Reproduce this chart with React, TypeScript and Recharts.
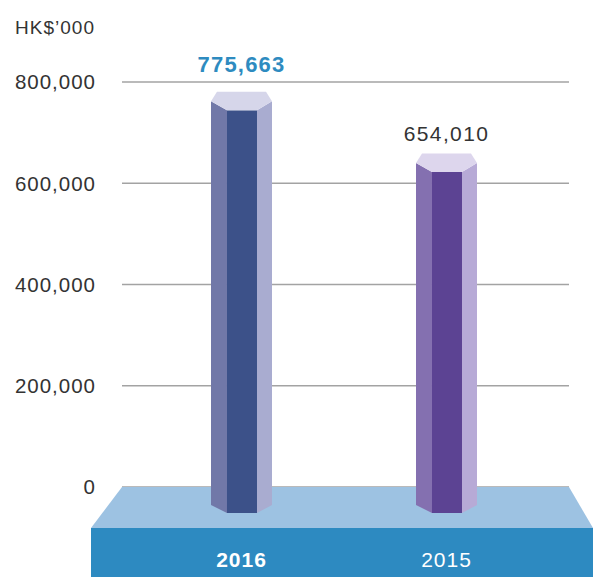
import React from "react";
import {
  BarChart,
  Bar,
  XAxis,
  YAxis,
  CartesianGrid,
  ReferenceArea,
  LabelList,
} from "recharts";

// data
const years = ["2016", "2015"];
const revenue = [775663, 654010];
const yTicks = [0, 200000, 400000, 600000, 800000];
const unitLabel = "HK$\u2019000";

const chartData = years.map((year, i) => ({ year, value: revenue[i] }));

const FONT = '"Liberation Sans", Arial, Helvetica, sans-serif';
const PAD_L = 17;
const PAD_R = 20;

// face colours per bar: left, front, right, cap
const palette = [
  { left: "#7178a8", front: "#3c5189", right: "#a9acd0", cap: "#d6d6ea" },
  { left: "#8470b0", front: "#5c4393", right: "#b7aad6", cap: "#ddd6ed" },
];

const fmt = (v: number) => v.toLocaleString("en-US");

const PrismBar = (props: any) => {
  const { x, y, width, height, index } = props;
  const c = palette[index % palette.length];
  const z = y + height;
  const l = x + width * 0.262;
  const r = x + width * 0.754;
  const top = y - 2.5;
  const tip = y + 7;
  const front = y + 16;
  const baseFront = z + 26;
  const baseSide = z + 18;
  return (
    <g>
      <polygon
        points={`${x},${tip} ${l},${front} ${l},${baseFront} ${x},${baseSide}`}
        fill={c.left}
      />
      <rect x={l} y={front} width={r - l} height={baseFront - front} fill={c.front} />
      <polygon
        points={`${r},${front} ${x + width},${tip} ${x + width},${baseSide} ${r},${baseFront}`}
        fill={c.right}
      />
      <polygon
        points={`${x + 6},${top} ${x + width - 6},${top} ${x + width},${tip} ${r},${front} ${l},${front} ${x},${tip}`}
        fill={c.cap}
      />
    </g>
  );
};

const Platform = (props: any) => {
  const { x, y, width, height } = props;
  const z = y + height;
  const L = x - PAD_L;
  const R = x + width + PAD_R;
  return (
    <g>
      <polygon
        points={`${L},${z} ${R},${z} ${R + 24},${z + 41} ${L - 31},${z + 41}`}
        fill="#9dc2e2"
      />
      <rect x={L - 31} y={z + 41} width={R + 24 - (L - 31)} height={60} fill="#2d8ac1" />
    </g>
  );
};

const XTick = (props: any) => {
  const { x, y, payload, index } = props;
  return (
    <text
      x={x}
      y={y}
      dy="0.71em"
      textAnchor="middle"
      fill="#ffffff"
      fontSize={21}
      fontFamily={FONT}
      fontWeight={index === 0 ? 700 : 400}
      letterSpacing={1}
    >
      {payload.value}
    </text>
  );
};

const ValueLabel = (props: any) => {
  const vb = props.viewBox || props;
  const { x, y, width } = vb;
  const first = props.index === 0;
  return (
    <text
      x={x + width / 2}
      y={first ? y - 22 : y - 15}
      textAnchor="middle"
      fill={first ? "#2e8bc0" : "#333333"}
      fontSize={first ? 22 : 21}
      fontWeight={first ? 700 : 400}
      fontFamily={FONT}
      letterSpacing={first ? 1.2 : 1.4}
    >
      {fmt(Number(props.value))}
    </text>
  );
};

const UnitLabel = (props: any) => {
  const { x, y, width } = props.viewBox;
  return (
    <text
      x={x + width - 27}
      y={y - 48}
      textAnchor="end"
      fill="#333333"
      fontSize={19}
      fontFamily={FONT}
      letterSpacing={1}
    >
      {unitLabel}
    </text>
  );
};

export default function App() {
  return (
    <div style={{ position: "absolute", left: 0, top: 0 }}>
      <BarChart
        width={593}
        height={577}
        data={chartData}
        margin={{ top: 82, right: 24, bottom: 0, left: 0 }}
        style={{ fontFamily: FONT }}
      >
        <CartesianGrid vertical={false} stroke="#a3a3a3" strokeWidth={1.5} />
        <ReferenceArea
          y1={0}
          y2={200000}
          ifOverflow="visible"
          shape={<Platform />}
        />
        <XAxis
          dataKey="year"
          axisLine={false}
          tickLine={false}
          tickSize={0}
          tickMargin={65}
          height={90}
          padding={{ left: PAD_L, right: PAD_R }}
          tick={<XTick />}
          interval={0}
        />
        <YAxis
          domain={[0, 800000]}
          ticks={yTicks}
          width={122}
          axisLine={false}
          tickLine={false}
          tickSize={0}
          tickMargin={26}
          tickFormatter={fmt}
          tick={{ fill: "#333333", fontSize: 20.5, fontFamily: FONT, letterSpacing: 1 }}
          label={(p: any) => <UnitLabel {...p} />}
        />
        <Bar
          dataKey="value"
          barSize={61}
          shape={<PrismBar />}
          isAnimationActive={false}
        >
          <LabelList dataKey="value" content={<ValueLabel />} />
        </Bar>
      </BarChart>
    </div>
  );
}
